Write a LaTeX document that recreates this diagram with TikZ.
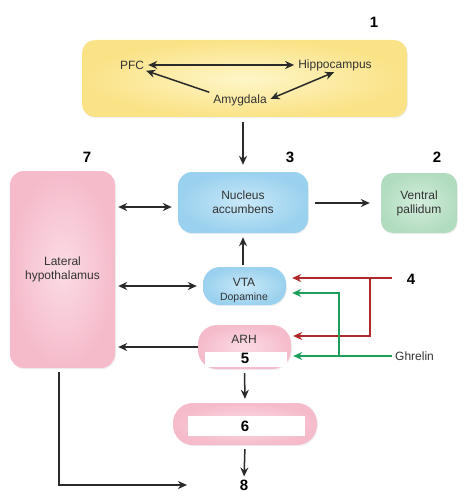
\documentclass[tikz,border=0pt]{standalone}
\usepackage{fontspec}
\setmainfont{Liberation Sans}
\usetikzlibrary{arrows.meta,shadows}
\definecolor{yin}{HTML}{FEF6C8}
\definecolor{yout}{HTML}{FAE286}
\definecolor{pin}{HTML}{FBDBE4}
\definecolor{pout}{HTML}{F5BBCB}
\definecolor{bin}{HTML}{C9E8F8}
\definecolor{bout}{HTML}{9AD1EE}
\definecolor{gin}{HTML}{D3EEDC}
\definecolor{gout}{HTML}{B2DCC0}
\definecolor{txt}{HTML}{333333}
\definecolor{arrc}{HTML}{2A2A2A}
\definecolor{redc}{HTML}{B0282A}
\definecolor{grnc}{HTML}{1E9E5A}
\tikzset{
  box/.style={rounded corners=#1, minimum width=0pt, minimum height=0pt, inner sep=0pt,
    drop shadow={opacity=0.12, shadow xshift=0.8pt, shadow yshift=-1.2pt}, align=center,
    text=txt, font=\fontsize{12}{14}\selectfont},
  ybox/.style={box=13pt, inner color=yin, outer color=yout},
  pbox/.style={box=#1, inner color=pin, outer color=pout},
  bbox/.style={box=#1, inner color=bin, outer color=bout},
  gbox/.style={box=12pt, inner color=gin, outer color=gout},
  lbl/.style={text=txt, font=\fontsize{12}{14}\selectfont, inner sep=1pt},
  num/.style={font=\fontsize{15}{17}\selectfont\bfseries, text=black, inner sep=0pt},
  arr/.style={draw=arrc, line width=1.5pt, -{Stealth[length=9pt,width=8pt]}},
  darr/.style={draw=arrc, line width=1.5pt, {Stealth[length=9pt,width=8pt]}-{Stealth[length=9pt,width=8pt]}},
  rarr/.style={draw=redc, line width=1.5pt},
  garr/.style={draw=grnc, line width=1.5pt},
  whitebar/.style={fill=white, inner sep=0pt},
}
\begin{document}
\begin{tikzpicture}[x=1pt,y=-1pt]
\useasboundingbox[fill=white] (0,0) rectangle (472,500);
% boxes
\node[ybox, minimum width=325pt, minimum height=77pt] (b1) at (244.5,78.5) {};
\node[bbox=14pt, minimum width=130pt, minimum height=61pt] (nac) at (243,202.5) {Nucleus\\accumbens};
\node[gbox, minimum width=76pt, minimum height=60pt] (vp) at (419,203) {Ventral\\pallidum};
\node[pbox=14pt, minimum width=105pt, minimum height=197pt] (lh) at (62.5,269.5) {Lateral\\hypothalamus};
\node[bbox=17pt, minimum width=83pt, minimum height=38pt] (vta) at (244.5,286) {};
\node[pbox=19pt, minimum width=93pt, minimum height=44pt] (arh) at (244.5,347) {};
\node[pbox=20pt, minimum width=144pt, minimum height=42pt] (b6) at (245,424) {};
\node[whitebar, minimum width=82pt, minimum height=15pt] (w5) at (246,359.5) {};
\node[whitebar, minimum width=117pt, minimum height=20pt] (w6) at (246.5,426) {};
% texts
\node[lbl] (pfc) at (132,65) {PFC};
\node[lbl] (hip) at (335,65) {Hippocampus};
\node[lbl] (amy) at (240,100) {Amygdala};
\node[lbl] (vtat) at (244,282) {VTA};
\node[lbl, font=\fontsize{10.5}{12}\selectfont] (dop) at (244,297.5) {Dopamine};
\node[lbl] (arht) at (244,339) {ARH};
\node[lbl, anchor=west] (ghr) at (394,356) {Ghrelin};
% numbers
\node[num] (n1) at (374,22) {1};
\node[num] (n2) at (437,157) {2};
\node[num] (n3) at (290,157) {3};
\node[num] (n4) at (411,279) {4};
\node[num] (n5) at (245,358) {5};
\node[num] (n6) at (245,426) {6};
\node[num] (n7) at (87,157) {7};
\node[num] (n8) at (244,485) {8};
% helper coordinates
\coordinate (y207) at (0,207);
\coordinate (y286) at (0,286);
\coordinate (y347) at (0,347);
\coordinate (x59) at (59,0);
\coordinate (lhend) at (187,485);
\coordinate (r4) at (392,278);
\coordinate (rj) at (370,278);
\coordinate (rk) at (370,336);
\coordinate (gk) at (339,356);
\coordinate (gj) at (339,293);
% top triangle
\draw[darr, shorten <=3pt, shorten >=3pt] (pfc.east) -- (hip.west);
\draw[arr, shorten <=3pt, shorten >=1pt] (amy.north west) -- (pfc.south east);
\draw[darr, shorten <=3pt, shorten >=1pt] (amy.east) -- (hip.south);
% main arrows
\draw[arr, shorten <=5pt, shorten >=7pt] (b1.south -| nac) -- (nac.north);
\draw[arr, shorten <=7pt, shorten >=11pt] (nac.east |- vp) -- (vp.west);
\draw[darr, shorten <=3pt, shorten >=6pt] (lh.east |- y207) -- (nac.west |- y207);
\draw[arr, shorten <=2pt, shorten >=4pt] (vta.north -| nac) -- (nac.south);
\draw[darr, shorten <=3pt, shorten >=6pt] (lh.east |- y286) -- (vta.west |- y286);
\draw[arr, shorten >=3pt] (arh.west |- y347) -- (lh.east |- y347);
\draw[arr, shorten <=4pt, shorten >=4pt] (arh.south) -- (b6.north);
\draw[arr, shorten <=4pt, shorten >=3pt] (b6.south) -- (n8.north);
\draw[arr, shorten <=4pt] (lh.south -| x59) |- (lhend);
% red
\draw[rarr, -{Stealth[length=9pt,width=8pt]}, shorten >=6pt] (r4) -- (vta.east |- r4);
\draw[rarr, -{Stealth[length=9pt,width=8pt]}, shorten >=2pt] (rj) -- (rk) -- (arh.east |- rk);
% green
\draw[garr, -{Stealth[length=9pt,width=8pt]}, shorten <=2pt, shorten >=2pt] (ghr.west) -- (arh.east |- ghr);
\draw[garr, -{Stealth[length=9pt,width=8pt]}, shorten >=6pt] (gk) -- (gj) -- (vta.east |- gj);
\end{tikzpicture}
\end{document}
